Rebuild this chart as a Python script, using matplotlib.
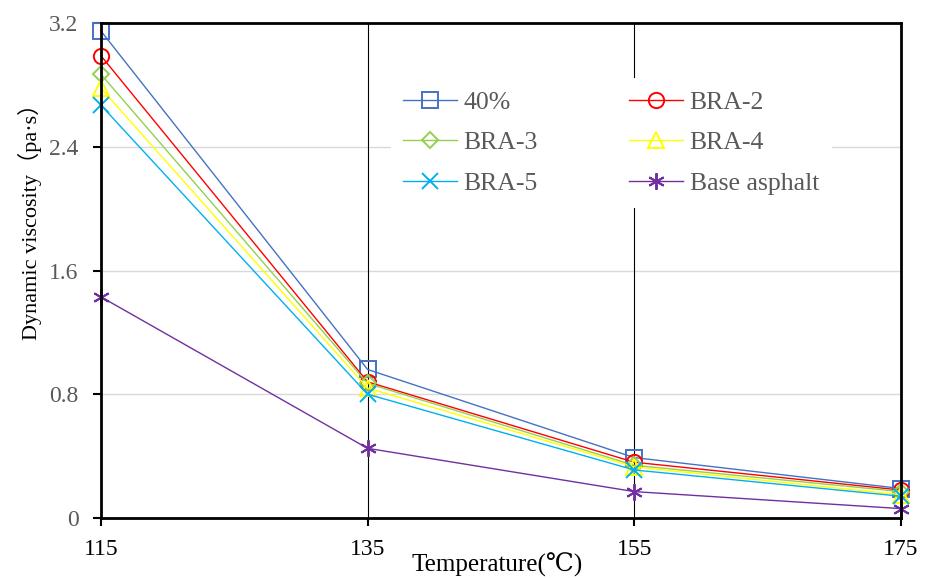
import matplotlib.pyplot as plt

plt.rcParams['font.family'] = ['Liberation Serif', 'DejaVu Serif', 'Noto Sans CJK SC']

temps = [115, 135, 155, 175]
visc_40 = [3.15, 0.96, 0.39, 0.19]
visc_bra2 = [2.99, 0.88, 0.36, 0.18]
visc_bra3 = [2.87, 0.87, 0.34, 0.17]
visc_bra4 = [2.78, 0.84, 0.33, 0.15]
visc_bra5 = [2.67, 0.80, 0.31, 0.14]
visc_base = [1.43, 0.45, 0.17, 0.06]

labels = ['40%', 'BRA-2', 'BRA-3', 'BRA-4', 'BRA-5', 'Base asphalt']
series = [visc_40, visc_bra2, visc_bra3, visc_bra4, visc_bra5, visc_base]
colors = ['#4472C4', '#FF0000', '#92D050', '#FFFF00', '#00B0F0', '#7030A0']
markers = ['s', 'o', 'D', '^', 'x', (6, 2, 0)]
sizes = [11, 11, 8, 11, 11, 12]

fig = plt.figure(figsize=(9.25, 5.78), dpi=100)
ax = fig.add_axes([0.109, 0.104, 0.865, 0.856])

lines = []
for vals, lab, c, m, s in zip(series, labels, colors, markers, sizes):
    ln, = ax.plot(temps, vals, color=c, lw=1.0, marker=m, ms=s, mfc='none',
                  mec=c, mew=1.4, label=lab, zorder=3, clip_on=False)
    lines.append(ln)

ax.set_xlim(115, 175)
ax.set_ylim(0, 3.2)
ax.set_xticks(temps)
ax.set_yticks([0, 0.8, 1.6, 2.4, 3.2])
ax.set_yticklabels(['0', '0.8', '1.6', '2.4', '3.2'])

# light horizontal grid, black vertical separators
for yv in [0.8, 1.6, 2.4]:
    ax.axhline(yv, color='#D9D9D9', lw=1.0, zorder=1)
for xv in [135, 155]:
    ax.axvline(xv, color='black', lw=0.8, zorder=1)

for sp in ax.spines.values():
    sp.set_linewidth(2.0)
    sp.set_color('black')
    sp.set_zorder(4)

ax.tick_params(axis='y', direction='out', length=6, width=1.5, labelsize=17,
               labelcolor='#595959', pad=10)
ax.tick_params(axis='x', direction='out', length=6, width=1.5, labelsize=17,
               labelcolor='black', pad=9)

ax.set_xlabel('Temperature(℃)', fontsize=18)
ax.xaxis.label.set_va('center')
ax.xaxis.set_label_coords(0.495, -0.094)
ax.set_ylabel('Dynamic viscosity（pa·s）', fontsize=16)
ax.yaxis.label.set_va('center')
ax.yaxis.set_label_coords(-0.089, 0.61)

# legend filled row by row: two columns
order = [0, 2, 4, 1, 3, 5]
leg = ax.legend([lines[i] for i in order], [labels[i] for i in order],
                ncol=2, loc='upper left', bbox_to_anchor=(0.346, 0.915),
                fontsize=18.5, frameon=True, facecolor='white', edgecolor='none',
                framealpha=1, fancybox=False, handlelength=2.1,
                handletextpad=0.25, columnspacing=3.55, labelspacing=0.68,
                borderpad=0.5)
for t in leg.get_texts():
    t.set_color('#595959')
leg.set_zorder(5)

fig.savefig('out.png', dpi=100)
